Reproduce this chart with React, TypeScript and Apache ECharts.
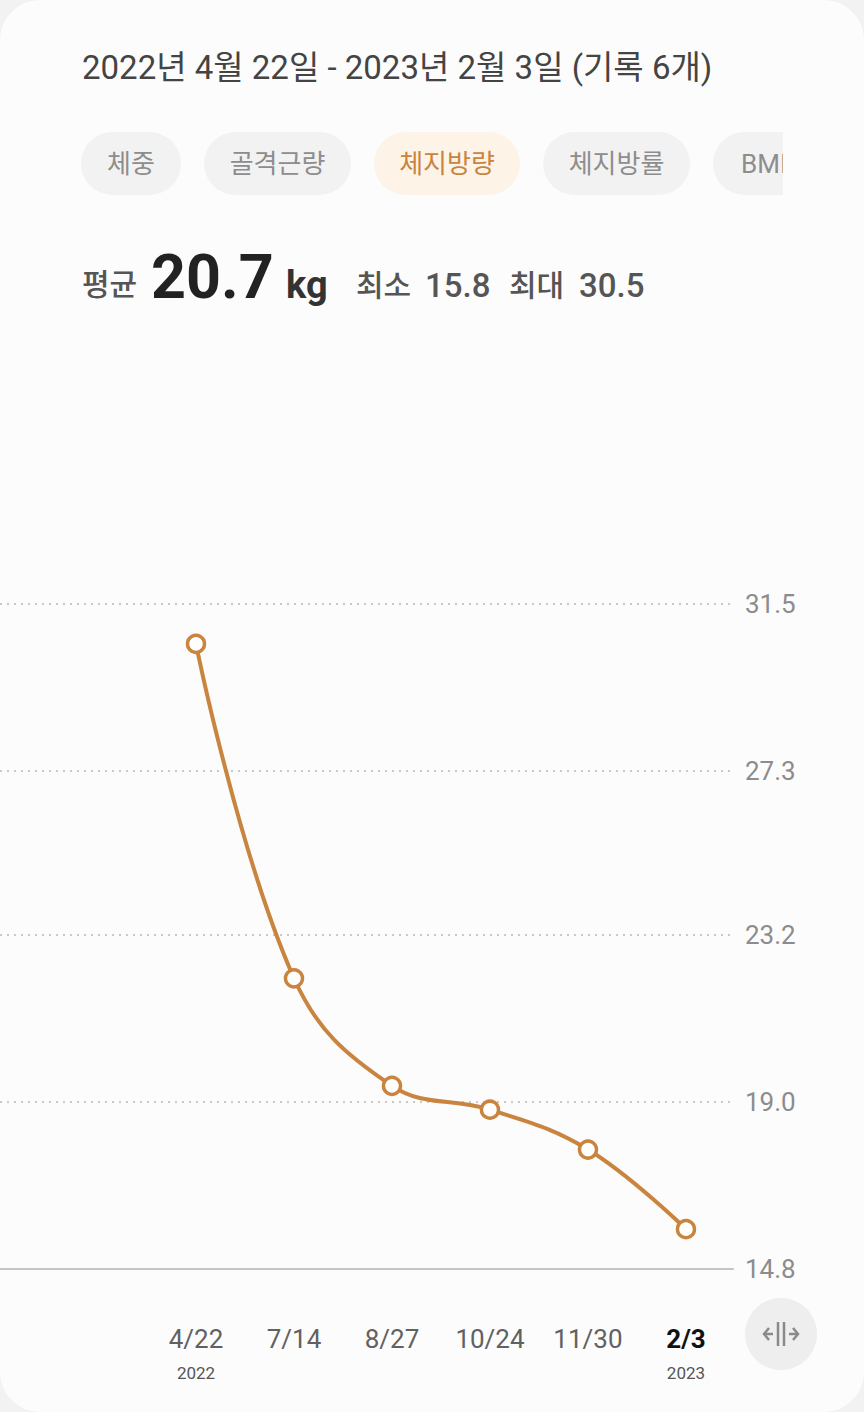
import React, { useEffect, useRef } from "react";
import * as echarts from "echarts";

const CATEGORIES = ["4/22", "7/14", "8/27", "10/24", "11/30", "2/3"];
const YEARS = ["2022", "", "", "", "", "2023"];
const VALUES = [30.5, 22.1, 19.4, 18.8, 17.8, 15.8];
const Y_TICKS = [14.8, 19.0, 23.2, 27.3, 31.5];
const TABS = ["체중", "골격근량", "체지방량", "체지방률", "BMI"];
const ACTIVE_TAB = 2;
const TITLE = "2022년 4월 22일 - 2023년 2월 3일 (기록 6개)";
const UNIT = "kg";

const FONT = "Roboto, 'Noto Sans CJK KR', sans-serif";
const ACCENT = "#c9843f";

export default function App() {
  const ref = useRef<HTMLDivElement>(null);
  useEffect(() => {
    if (!ref.current) return;
    const chart = echarts.init(ref.current, undefined, { renderer: "svg" });
    const avg = VALUES.reduce((a, b) => a + b, 0) / VALUES.length;
    const minV = Math.min(...VALUES);
    const maxV = Math.max(...VALUES);

    const pillX = [81, 204, 374, 543, 713];
    const pillW = [100, 147, 146, 147, 70];
    const graphics: any[] = [
      {
        type: "rect",
        z: -10,
        silent: true,
        shape: { x: 0, y: 0, width: 864, height: 1412, r: 40 },
        style: { fill: "#fcfcfc" },
      },
      {
        type: "text",
        x: 82,
        y: 67,
        style: {
          text: TITLE,
          fill: "#444444",
          fontSize: 33,
          fontFamily: FONT,
          align: "left",
          verticalAlign: "middle",
        },
      },
    ];
    TABS.forEach((t, i) => {
      const active = i === ACTIVE_TAB;
      const last = i === TABS.length - 1;
      graphics.push({
        type: "rect",
        shape: {
          x: pillX[i],
          y: 132,
          width: pillW[i],
          height: 63,
          r: last ? [31.5, 0, 0, 31.5] : 31.5,
        },
        style: { fill: active ? "#fdf3e7" : "#f2f2f2" },
      });
      graphics.push({
        type: "text",
        x: last ? pillX[i] + 28 : pillX[i] + pillW[i] / 2,
        y: 164,
        style: {
          text: t,
          fill: active ? ACCENT : "#8d8d8d",
          fontSize: 26,
          fontFamily: FONT,
          align: last ? "left" : "center",
          verticalAlign: "middle",
        },
      });
    });
    graphics.push({
      type: "rect",
      z: 5,
      shape: { x: 783, y: 125, width: 81, height: 80 },
      style: { fill: "#fcfcfc" },
    });
    const statTexts = [
      { x: 82, text: "평균", size: 30, weight: 500, color: "#555555", cy: 284 },
      { x: 151, text: avg.toFixed(1), size: 61, weight: 700, color: "#222222", cy: 277 },
      { x: 286, text: UNIT, size: 38, weight: 700, color: "#333333", cy: 285 },
      { x: 356, text: "최소", size: 30, weight: 500, color: "#555555", cy: 285 },
      { x: 425, text: minV.toFixed(1), size: 33, weight: 500, color: "#555555", cy: 285 },
      { x: 509, text: "최대", size: 30, weight: 500, color: "#555555", cy: 285 },
      { x: 579, text: maxV.toFixed(1), size: 33, weight: 500, color: "#555555", cy: 285 },
    ];
    statTexts.forEach((s) =>
      graphics.push({
        type: "text",
        x: s.x,
        y: s.cy,
        style: {
          text: s.text,
          fill: s.color,
          fontSize: s.size,
          fontWeight: s.weight,
          fontFamily: FONT,
          align: "left",
          verticalAlign: "middle",
        },
      })
    );
    // scroll button
    const bx = 781;
    const by = 1334;
    const ic = "#8a8a8a";
    graphics.push(
      { type: "circle", shape: { cx: bx, cy: by, r: 36 }, style: { fill: "#eeeeee" } },
      { type: "line", shape: { x1: bx - 3, y1: by - 12, x2: bx - 3, y2: by + 12 }, style: { stroke: ic, lineWidth: 2.5 } },
      { type: "line", shape: { x1: bx + 3, y1: by - 12, x2: bx + 3, y2: by + 12 }, style: { stroke: ic, lineWidth: 2.5 } },
      { type: "line", shape: { x1: bx - 17, y1: by, x2: bx - 8, y2: by }, style: { stroke: ic, lineWidth: 2.5 } },
      { type: "polyline", shape: { points: [[bx - 12, by - 6], [bx - 17, by], [bx - 12, by + 6]] }, style: { stroke: ic, lineWidth: 2.5, fill: "none" } },
      { type: "line", shape: { x1: bx + 8, y1: by, x2: bx + 17, y2: by }, style: { stroke: ic, lineWidth: 2.5 } },
      { type: "polyline", shape: { points: [[bx + 12, by - 6], [bx + 17, by], [bx + 12, by + 6]] }, style: { stroke: ic, lineWidth: 2.5, fill: "none" } }
    );

    chart.setOption({
      animation: false,
      backgroundColor: "#f2f2f2",
      graphic: graphics,
      grid: { left: 0, right: 131, top: 604, bottom: 143, containLabel: false },
      xAxis: {
        type: "value",
        min: -2,
        max: 5.48,
        interval: 1,
        splitLine: { show: false },
        axisTick: { show: false },
        axisLine: { show: true, lineStyle: { color: "#c4c4c4", width: 2 } },
        axisLabel: {
          margin: 53,
          showMinLabel: false,
          showMaxLabel: false,
          formatter: (v: number) => {
            if (Math.abs(v - Math.round(v)) > 1e-6) return "";
            const i = Math.round(v);
            if (i < 0 || i >= CATEGORIES.length) return "";
            const isLast = i === CATEGORIES.length - 1;
            const main = isLast ? `{b|${CATEGORIES[i]}}` : `{d|${CATEGORIES[i]}}`;
            return YEARS[i] ? `${main}\n{y|${YEARS[i]}}` : `${main}\n{y| }`;
          },
          rich: {
            d: { fontSize: 26, fontFamily: FONT, color: "#616161", lineHeight: 34 },
            b: { fontSize: 26, fontFamily: FONT, color: "#111111", fontWeight: 700, lineHeight: 34 },
            y: { fontSize: 17, fontFamily: FONT, color: "#555555", lineHeight: 34 },
          },
        },
      },
      yAxis: {
        type: "value",
        position: "right",
        min: Y_TICKS[0],
        max: Y_TICKS[Y_TICKS.length - 1],
        axisLine: { show: false },
        axisTick: { show: false, customValues: Y_TICKS },
        splitLine: { show: true, lineStyle: { color: "#c8c8c8", width: 2, type: [2, 5] } },
        axisLabel: {
          customValues: Y_TICKS,
          margin: 12,
          fontSize: 26,
          fontFamily: FONT,
          color: "#8c8c8c",
          formatter: (v: number) => v.toFixed(1),
        },
      },
      series: [
        {
          type: "line",
          data: VALUES.map((v, i) => [i, v]),
          smooth: 0.4,
          symbol: "circle",
          symbolSize: 17,
          showSymbol: true,
          itemStyle: { color: "#ffffff", borderColor: ACCENT, borderWidth: 3.5 },
          lineStyle: { color: ACCENT, width: 4 },
          z: 3,
        },
      ],
    });
    return () => chart.dispose();
  }, []);
  return (
    <div
      ref={ref}
      style={{ position: "fixed", left: 0, top: 0, width: 864, height: 1412 }}
    />
  );
}
